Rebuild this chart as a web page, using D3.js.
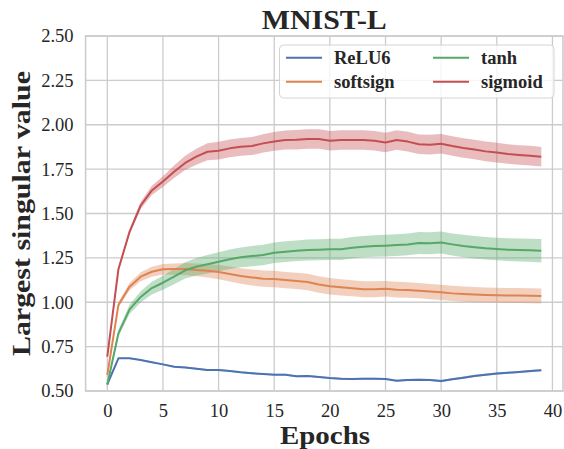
<!DOCTYPE html>
<html>
<head>
<meta charset="utf-8">
<script src="https://cdn.jsdelivr.net/npm/d3@7"></script>
<style>
  body { margin: 0; background: #fff; }
  svg text { font-family: "Liberation Serif", "DejaVu Serif", serif !important; fill: #262626; }
</style>
</head>
<body>
<svg id="chart"></svg>
<script>
const WIDTH = 564;
const HEIGHT = 449;
const SERIF = '"Liberation Serif", "DejaVu Serif", serif';

const epochs = d3.range(0, 40);
const xTicks = [0, 5, 10, 15, 20, 25, 30, 35, 40];
const yTicks = [0.5, 0.75, 1.0, 1.25, 1.5, 1.75, 2.0, 2.25, 2.5];

// mean curves
const relu6 = [0.538, 0.684, 0.684, 0.675, 0.662, 0.650, 0.637, 0.633, 0.626, 0.618,
  0.618, 0.613, 0.605, 0.600, 0.596, 0.592, 0.592, 0.583, 0.585, 0.579,
  0.573, 0.569, 0.568, 0.569, 0.569, 0.568, 0.558, 0.562, 0.564, 0.562,
  0.556, 0.566, 0.575, 0.585, 0.592, 0.598, 0.603, 0.607, 0.612, 0.617];
const softsign = [0.590, 0.985, 1.088, 1.144, 1.172, 1.186, 1.187, 1.187, 1.182, 1.178,
  1.170, 1.159, 1.148, 1.140, 1.133, 1.131, 1.125, 1.120, 1.114, 1.100,
  1.090, 1.084, 1.079, 1.073, 1.073, 1.076, 1.071, 1.069, 1.065, 1.060,
  1.056, 1.050, 1.046, 1.043, 1.041, 1.039, 1.038, 1.038, 1.037, 1.035];
const tanh = [0.535, 0.825, 0.960, 1.030, 1.080, 1.110, 1.144, 1.180, 1.200, 1.214,
  1.228, 1.242, 1.253, 1.260, 1.266, 1.279, 1.285, 1.290, 1.294, 1.296,
  1.298, 1.298, 1.307, 1.313, 1.317, 1.319, 1.322, 1.326, 1.334, 1.332,
  1.336, 1.326, 1.317, 1.310, 1.304, 1.300, 1.296, 1.294, 1.293, 1.290];
const sigmoid = [0.693, 1.186, 1.397, 1.545, 1.630, 1.680, 1.735, 1.785, 1.820, 1.848,
  1.854, 1.867, 1.876, 1.880, 1.895, 1.906, 1.914, 1.915, 1.920, 1.920,
  1.910, 1.914, 1.914, 1.914, 1.910, 1.900, 1.914, 1.905, 1.890, 1.888,
  1.893, 1.880, 1.869, 1.860, 1.850, 1.843, 1.835, 1.830, 1.826, 1.820];

// half width of the shaded band around each curve
const relu6Spread = [0.004, 0.004, 0.004, 0.004, 0.004, 0.004, 0.005, 0.005, 0.005, 0.005,
  0.005, 0.005, 0.005, 0.005, 0.005, 0.005, 0.005, 0.005, 0.005, 0.005,
  0.005, 0.005, 0.005, 0.005, 0.005, 0.005, 0.005, 0.005, 0.005, 0.005,
  0.006, 0.006, 0.006, 0.006, 0.006, 0.006, 0.006, 0.006, 0.006, 0.006];
const softsignSpread = [0.010, 0.015, 0.020, 0.025, 0.028, 0.030, 0.032, 0.034, 0.036, 0.038,
  0.040, 0.042, 0.044, 0.045, 0.046, 0.046, 0.046, 0.046, 0.046, 0.046,
  0.046, 0.046, 0.045, 0.045, 0.045, 0.044, 0.044, 0.044, 0.043, 0.043,
  0.043, 0.043, 0.043, 0.043, 0.042, 0.042, 0.042, 0.042, 0.042, 0.042];
const tanhSpread = [0.008, 0.018, 0.026, 0.032, 0.036, 0.040, 0.043, 0.046, 0.049, 0.052,
  0.054, 0.055, 0.056, 0.057, 0.058, 0.058, 0.058, 0.058, 0.059, 0.059,
  0.060, 0.060, 0.060, 0.060, 0.060, 0.061, 0.061, 0.061, 0.062, 0.062,
  0.062, 0.062, 0.063, 0.063, 0.063, 0.064, 0.064, 0.065, 0.065, 0.066];
const sigmoidSpread = [0.008, 0.012, 0.016, 0.020, 0.026, 0.030, 0.035, 0.040, 0.045, 0.048,
  0.050, 0.050, 0.050, 0.051, 0.052, 0.053, 0.054, 0.055, 0.055, 0.055,
  0.055, 0.055, 0.055, 0.055, 0.055, 0.055, 0.055, 0.055, 0.055, 0.055,
  0.055, 0.055, 0.055, 0.055, 0.055, 0.055, 0.055, 0.055, 0.055, 0.055];

const series = [
  { name: "ReLU6", values: relu6, spread: relu6Spread, color: "#4C72B0" },
  { name: "softsign", values: softsign, spread: softsignSpread, color: "#DD8452" },
  { name: "tanh", values: tanh, spread: tanhSpread, color: "#55A868" },
  { name: "sigmoid", values: sigmoid, spread: sigmoidSpread, color: "#C44E52" }
];

const svg = d3.select("#chart")
  .attr("width", WIDTH)
  .attr("height", HEIGHT)
  .style("font-family", SERIF);

const x = d3.scaleLinear().domain([-1.95, 40.95]).range([85.6, 563]);
const y = d3.scaleLinear().domain([0.5, 2.5]).range([391, 36]);

// grid
svg.append("g")
  .selectAll("line")
  .data(xTicks)
  .join("line")
  .attr("x1", d => x(d)).attr("x2", d => x(d))
  .attr("y1", y(2.5)).attr("y2", y(0.5))
  .attr("stroke", "#cccccc")
  .attr("stroke-width", 1.3);

svg.append("g")
  .selectAll("line")
  .data(yTicks)
  .join("line")
  .attr("x1", x.range()[0]).attr("x2", x.range()[1])
  .attr("y1", d => y(d)).attr("y2", d => y(d))
  .attr("stroke", "#cccccc")
  .attr("stroke-width", 1.3);

// frame
svg.append("rect")
  .attr("x", x.range()[0]).attr("y", y(2.5))
  .attr("width", x.range()[1] - x.range()[0])
  .attr("height", y(0.5) - y(2.5))
  .attr("fill", "none")
  .attr("stroke", "#cccccc")
  .attr("stroke-width", 1.6);

// axes (labels only, seaborn style)
const xAxis = svg.append("g")
  .attr("transform", `translate(0,${y(0.5)})`)
  .call(d3.axisBottom(x).tickValues(xTicks).tickSize(0).tickPadding(13).tickFormat(d3.format("d")))
  .attr("font-family", SERIF);
xAxis.select(".domain").remove();
xAxis.selectAll("text")
  .style("font-family", SERIF)
  .style("font-size", "18.5px")
  .attr("fill", "#262626");

const yAxis = svg.append("g")
  .attr("transform", `translate(${x.range()[0]},0)`)
  .call(d3.axisLeft(y).tickValues(yTicks).tickSize(0).tickPadding(12).tickFormat(d3.format(".2f")))
  .attr("font-family", SERIF);
yAxis.select(".domain").remove();
yAxis.selectAll("text")
  .style("font-family", SERIF)
  .style("font-size", "18.5px")
  .attr("fill", "#262626");

// bands and lines
const area = d3.area()
  .x((d, i) => x(epochs[i]))
  .y0(d => y(d[0]))
  .y1(d => y(d[1]));

const line = d3.line()
  .x((d, i) => x(epochs[i]))
  .y(d => y(d));

series.forEach(s => {
  const band = s.values.map((v, i) => [v - s.spread[i], v + s.spread[i]]);
  svg.append("path")
    .datum(band)
    .attr("fill", s.color)
    .attr("fill-opacity", 0.38)
    .attr("d", area);
});

series.forEach(s => {
  svg.append("path")
    .datum(s.values)
    .attr("fill", "none")
    .attr("stroke", s.color)
    .attr("stroke-width", 2)
    .attr("stroke-linejoin", "round")
    .attr("d", line);
});

// title and axis labels
svg.append("text")
  .attr("x", (x.range()[0] + x.range()[1]) / 2)
  .attr("y", 28.5)
  .attr("text-anchor", "middle")
  .style("font-size", "27px")
  .style("font-weight", "bold")
  .attr("textLength", 125)
  .attr("lengthAdjust", "spacingAndGlyphs")
  .text("MNIST-L");

svg.append("text")
  .attr("x", 325)
  .attr("y", 444)
  .attr("text-anchor", "middle")
  .style("font-size", "26px")
  .style("font-weight", "bold")
  .attr("textLength", 90)
  .attr("lengthAdjust", "spacingAndGlyphs")
  .text("Epochs");

svg.append("text")
  .attr("transform", `translate(30,${(y(0.5) + y(2.5)) / 2}) rotate(-90)`)
  .attr("text-anchor", "middle")
  .style("font-size", "26px")
  .style("font-weight", "bold")
  .attr("textLength", 285)
  .attr("lengthAdjust", "spacingAndGlyphs")
  .text("Largest singular value");

// legend
const legend = svg.append("g");
legend.append("rect")
  .attr("x", 279.5).attr("y", 45)
  .attr("width", 274.5).attr("height", 53)
  .attr("rx", 4)
  .attr("fill", "#fff").attr("fill-opacity", 0.8)
  .attr("stroke", "#d4d4d4").attr("stroke-width", 1);

const legendPos = [[286, 57.7], [286, 81.7], [433, 57.7], [433, 81.7]];
series.forEach((s, i) => {
  const [lx, ly] = legendPos[i];
  legend.append("line")
    .attr("x1", lx).attr("x2", lx + 36)
    .attr("y1", ly).attr("y2", ly)
    .attr("stroke", s.color)
    .attr("stroke-width", 2);
  legend.append("text")
    .attr("x", lx + 48)
    .attr("y", ly + 6.5)
    .style("font-size", "18.5px")
    .style("font-weight", "bold")
    .text(s.name);
});
</script>
</body>
</html>
